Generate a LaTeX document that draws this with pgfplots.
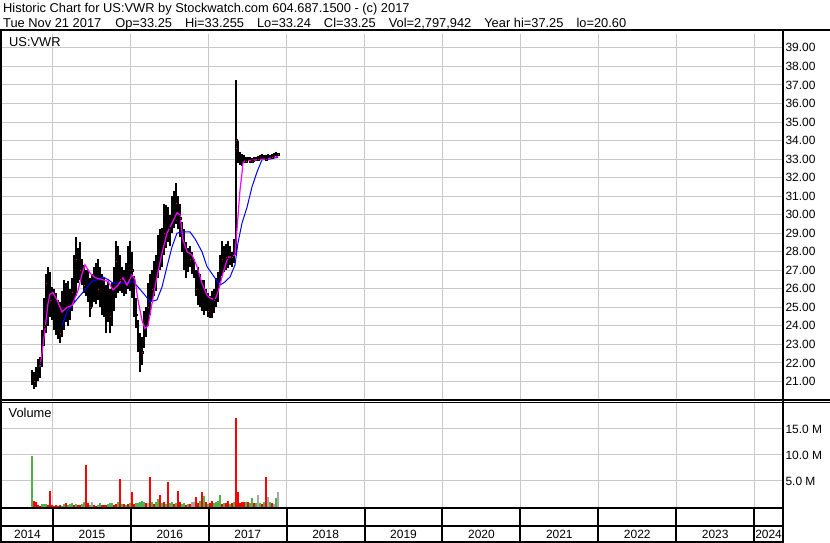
\documentclass[border=0pt]{standalone}
\usepackage{fontspec}
\setmainfont{Liberation Sans}
\usepackage{pgfplots}
\usepackage{pgfplotstable}
\pgfplotsset{compat=1.18}

\definecolor{gridgray}{RGB}{200,200,200}
\definecolor{volred}{RGB}{255,0,0}
\definecolor{volgreen}{RGB}{76,180,72}
\definecolor{volgray}{RGB}{168,168,168}
\definecolor{maline}{RGB}{255,0,255}
\definecolor{mbline}{RGB}{0,0,255}

% daily ranges (decimal year, low, high)
\pgfplotstableread{
yr lo hi
2014.731 20.8 21.6
2014.756 20.6 21.5
2014.782 20.7 21.8
2014.808 21.0 22.2
2014.833 21.2 22.3
2014.859 21.8 23.8
2014.885 22.9 25.5
2014.910 23.6 26.8
2014.936 24.0 27.2
2014.962 24.5 26.9
2014.988 24.3 26.1
2015.013 23.8 26.0
2015.039 23.5 25.8
2015.065 23.3 25.4
2015.090 23.1 25.3
2015.116 23.4 25.9
2015.142 23.8 26.5
2015.167 24.2 26.3
2015.193 24.0 26.4
2015.219 24.3 26.0
2015.244 24.8 26.6
2015.270 25.3 27.8
2015.296 25.6 28.8
2015.321 26.3 28.2
2015.347 26.5 28.5
2015.373 26.2 27.6
2015.398 25.8 27.3
2015.424 25.6 27.0
2015.449 25.3 27.0
2015.475 24.5 26.6
2015.501 25.0 26.8
2015.527 25.3 27.2
2015.552 25.2 27.4
2015.578 25.4 27.6
2015.604 25.0 27.2
2015.629 24.6 26.8
2015.655 24.5 26.6
2015.681 23.6 26.2
2015.706 24.2 26.4
2015.732 23.6 26.0
2015.758 24.0 26.3
2015.783 24.8 27.2
2015.809 25.5 28.6
2015.835 25.8 28.3
2015.860 25.9 27.8
2015.886 25.8 27.2
2015.912 25.6 27.0
2015.937 25.7 27.4
2015.963 26.0 28.3
2015.989 25.9 28.6
2016.014 25.5 28.0
2016.040 24.5 26.7
2016.066 23.9 25.5
2016.091 22.6 24.3
2016.117 21.5 23.6
2016.143 21.9 23.4
2016.168 22.8 24.8
2016.194 23.4 25.0
2016.220 24.0 26.3
2016.245 24.6 26.8
2016.271 25.3 27.0
2016.297 25.6 27.5
2016.322 25.9 27.8
2016.348 26.6 28.9
2016.374 27.0 29.2
2016.399 27.2 29.3
2016.425 27.8 30.6
2016.451 28.2 30.5
2016.476 28.5 30.4
2016.502 28.3 30.0
2016.528 29.0 31.0
2016.553 29.3 31.3
2016.579 29.5 31.7
2016.605 29.2 31.0
2016.630 28.8 30.6
2016.656 28.0 29.6
2016.682 27.0 29.2
2016.707 26.6 28.5
2016.733 26.9 28.2
2016.759 27.2 28.3
2016.784 26.8 28.0
2016.810 26.6 27.6
2016.836 25.6 27.0
2016.861 25.1 27.2
2016.887 25.0 26.8
2016.913 24.8 26.5
2016.938 24.6 26.5
2016.964 24.8 26.0
2016.990 24.5 25.8
2017.016 24.4 25.6
2017.041 24.4 25.9
2017.067 24.7 26.0
2017.093 25.0 26.6
2017.118 25.3 26.9
2017.144 26.3 27.8
2017.170 26.7 28.6
2017.195 26.9 28.3
2017.221 27.0 28.4
2017.247 27.1 28.6
2017.272 27.3 28.3
2017.298 27.2 28.0
2017.324 27.4 28.7
2017.349 27.8 37.25
2017.375 32.8 34.0
2017.401 32.7 33.4
2017.427 32.6 33.3
2017.452 32.8 33.2
2017.478 32.8 33.1
2017.504 32.9 33.1
2017.529 32.8 33.1
2017.555 32.8 33.05
2017.581 32.85 33.1
2017.606 32.9 33.1
2017.632 32.9 33.15
2017.658 32.95 33.2
2017.683 33.0 33.25
2017.709 32.95 33.2
2017.735 32.9 33.2
2017.760 33.0 33.25
2017.786 33.0 33.2
2017.812 33.05 33.25
2017.837 33.1 33.35
2017.863 33.15 33.4
2017.889 33.24 33.255
}\pricebars

% closing ticks on down days
\pgfplotstableread{
yr cl
2014.756 21.0
2014.833 22.0
2014.885 24.0
2014.910 26.3
2014.962 25.4
2015.039 24.6
2015.090 23.6
2015.167 25.2
2015.244 25.8
2015.296 27.6
2015.347 27.0
2015.398 26.2
2015.475 25.0
2015.578 26.0
2015.655 25.3
2015.732 24.5
2015.809 27.5
2015.860 26.5
2015.963 26.6
2016.014 27.0
2016.066 24.6
2016.143 22.6
2016.220 25.0
2016.271 26.0
2016.348 28.0
2016.425 29.0
2016.502 29.3
2016.579 30.6
2016.630 29.8
2016.682 28.0
2016.759 27.6
2016.836 26.0
2016.913 25.3
2016.990 24.8
2017.067 25.4
2017.170 27.6
2017.221 27.7
2017.298 27.7
2017.349 34.0
2017.349 33.6
2017.401 32.8
2017.478 32.9
2017.555 32.9
2017.632 33.0
2017.735 33.0
2017.812 33.1
2017.889 33.25
}\closeticks

% short moving average
\pgfplotstableread{
yr ma
2014.833 21.8
2014.859 22.5
2014.898 23.8
2014.936 25.2
2014.962 25.7
2015.000 25.8
2015.052 25.4
2015.116 24.75
2015.180 25.0
2015.244 25.1
2015.321 25.9
2015.373 26.8
2015.411 27.3
2015.475 26.85
2015.540 26.6
2015.629 26.5
2015.706 26.4
2015.771 25.94
2015.835 26.2
2015.899 26.6
2015.950 26.2
2016.014 26.75
2016.053 26.5
2016.091 25.4
2016.143 24.3
2016.181 23.86
2016.220 24.0
2016.271 25.2
2016.335 26.64
2016.400 27.93
2016.464 29.0
2016.528 29.55
2016.592 30.1
2016.631 30.0
2016.669 28.64
2016.721 28.0
2016.785 27.83
2016.849 27.2
2016.913 26.3
2016.977 25.66
2017.016 25.5
2017.080 25.4
2017.119 25.83
2017.183 26.85
2017.247 27.72
2017.298 27.72
2017.337 27.83
2017.375 29.9
2017.401 31.34
2017.427 32.26
2017.439 32.8
2017.465 32.9
2017.593 32.95
2017.722 33.0
2017.850 33.1
2017.889 33.15
}\mashort

% long moving average
\pgfplotstableread{
yr ma
2015.116 24.0
2015.180 24.75
2015.244 25.1
2015.321 25.5
2015.411 25.94
2015.501 26.4
2015.578 26.5
2015.642 26.64
2015.706 26.5
2015.771 26.3
2015.860 26.3
2015.963 26.3
2016.027 26.4
2016.091 26.1
2016.181 25.66
2016.246 25.3
2016.335 25.4
2016.400 26.1
2016.464 27.2
2016.528 28.26
2016.592 29.0
2016.656 29.07
2016.759 29.07
2016.823 28.7
2016.913 28.0
2016.977 27.2
2017.080 26.58
2017.144 26.2
2017.208 26.37
2017.273 26.64
2017.337 27.29
2017.375 28.48
2017.427 29.55
2017.491 30.4
2017.555 31.5
2017.619 32.3
2017.683 32.96
2017.786 33.0
2017.889 33.1
}\malong

% volume in millions, split by day type
\pgfplotstableread{
yr v
2014.756 1.2
2014.782 0.9
2014.808 0.4
2014.833 0.2
2014.936 0.3
2014.962 3.1
2014.988 0.3
2015.013 0.2
2015.039 0.3
2015.065 0.2
2015.090 0.3
2015.167 0.8
2015.270 0.3
2015.321 0.4
2015.347 0.3
2015.424 8.1
2015.449 0.8
2015.527 0.3
2015.552 0.2
2015.629 0.3
2015.655 0.3
2015.681 0.4
2015.783 0.3
2015.809 0.5
2015.860 5.3
2015.912 0.6
2015.963 0.6
2016.014 2.9
2016.040 0.6
2016.194 0.7
2016.245 5.8
2016.297 0.5
2016.374 2.4
2016.425 0.9
2016.476 4.9
2016.553 0.6
2016.605 3.1
2016.630 1.0
2016.707 0.4
2016.759 0.6
2016.836 2.0
2016.861 0.7
2016.913 2.8
2016.964 0.9
2017.016 0.7
2017.041 1.2
2017.170 0.6
2017.221 0.7
2017.247 1.1
2017.298 0.7
2017.349 17.2
2017.375 2.9
2017.401 0.8
2017.427 0.9
2017.452 1.0
2017.504 1.0
2017.581 0.8
2017.683 0.6
2017.735 5.8
2017.812 0.8
}\voldown

\pgfplotstableread{
yr v
2014.731 9.9
2014.859 0.5
2014.885 0.5
2014.910 0.5
2015.116 0.2
2015.142 0.5
2015.193 0.4
2015.219 0.5
2015.244 0.8
2015.296 0.6
2015.373 0.5
2015.398 0.9
2015.475 0.4
2015.578 0.4
2015.604 0.8
2015.706 0.5
2015.732 0.8
2015.758 0.8
2015.835 0.9
2015.886 0.5
2015.937 0.4
2015.989 0.7
2016.066 0.8
2016.091 0.7
2016.117 1.0
2016.143 1.2
2016.168 1.0
2016.271 0.9
2016.322 1.0
2016.348 1.6
2016.399 0.8
2016.451 0.6
2016.502 0.8
2016.528 1.0
2016.579 0.8
2016.656 0.5
2016.682 0.8
2016.733 0.5
2016.887 1.2
2016.938 2.2
2016.990 0.6
2017.067 0.7
2017.093 0.9
2017.118 1.1
2017.144 2.4
2017.195 0.8
2017.272 0.6
2017.324 0.9
2017.478 0.9
2017.529 0.7
2017.555 1.8
2017.606 0.7
2017.658 0.8
2017.709 1.0
2017.786 1.0
2017.863 1.8
}\volup

\pgfplotstableread{
yr v
2015.501 1.0
2016.220 0.8
2016.784 0.9
2016.810 0.9
2017.632 2.4
2017.760 2.0
2017.837 0.5
2017.889 2.798
}\volflat

\pgfplotsset{
  swpanel/.style={
    scale only axis, width=781bp,
    xmin=2014.346, xmax=2024.371,
    axis line style={draw=none}, tick style={draw=none},
    xtick={2015,...,2024}, xticklabels={},
    xmajorgrids, ymajorgrids,
    major grid style={gridgray, line width=1bp},
    yticklabel pos=right,
    yticklabel style={font=\fontsize{12}{14}\selectfont, anchor=west, xshift=-1bp},
    /pgf/number format/assume math mode=true,
  },
}

\begin{document}
\begin{tikzpicture}[x=1bp, y=1bp]
\useasboundingbox (0,0) rectangle (830,543);
\fill[white] (0,0) rectangle (830,543);

% price panel (top 34px .. 400px from the top edge)
\begin{axis}[swpanel, at={(2bp,143bp)}, anchor=south west, height=366bp,
  ymin=20, ymax=39.75, ytick={21,...,39},
  yticklabel style={/pgf/number format/.cd, fixed, fixed zerofill, precision=2}]
\addplot[draw=none, mark=none,
  error bars/.cd, y dir=minus, y explicit, error mark=none,
  error bar style={draw=black, solid, line width=1.2bp}]
  table[x=yr, y=hi, y error expr=\thisrow{hi}-\thisrow{lo}] {\pricebars};
\addplot[only marks, mark=square*, mark size=0.9bp,
  mark options={draw=none, fill=red}] table[x=yr, y=cl] {\closeticks};
\addplot[mbline, line width=1bp] table[x=yr, y=ma] {\malong};
\addplot[maline, line width=1.2bp] table[x=yr, y=ma] {\mashort};
\end{axis}

% volume panel
\begin{axis}[swpanel, at={(2bp,36bp)}, anchor=south west, height=105bp,
  ymin=0, ymax=20.19, ytick={5,10,15},
  yticklabels={5.0 M, 10.0 M, 15.0 M}]
\addplot[ycomb, volgreen, line width=1.5bp] table[x=yr, y=v] {\volup};
\addplot[ycomb, volgray, line width=1.5bp] table[x=yr, y=v] {\volflat};
\addplot[ycomb, volred, line width=1.5bp] table[x=yr, y=v] {\voldown};
\end{axis}

% year band
\begin{axis}[scale only axis, width=781bp, height=34bp,
  at={(2bp,0bp)}, anchor=south west,
  xmin=2014.346, xmax=2024.371, ymin=0, ymax=2,
  axis line style={draw=none}, tick style={draw=none},
  xtick={2015,...,2024}, xticklabels={}, ytick=\empty,
  xmajorgrids, major grid style={black, line width=2bp},
  clip=false]
\foreach \yy/\lab in {2014.673/2014, 2015.5/2015, 2016.5/2016, 2017.5/2017,
  2018.5/2018, 2019.5/2019, 2020.5/2020, 2021.5/2021, 2022.5/2022,
  2023.5/2023, 2024.186/2024}{
  \edef\tmp{\noexpand\node[font=\noexpand\fontsize{12}{14}\noexpand\selectfont, inner sep=0pt]
    at (axis cs:\yy,0.5) {\lab};}\tmp
}
\end{axis}

% frame and titles, in pixel rows counted from the top
\begin{scope}[y=-1bp, shift={(0,-543)}]
\begin{scope}[line width=2bp, black]
\draw (0,30.5) -- (830,30.5);
\draw (1,30) -- (1,543);
\draw (782.5,30) -- (782.5,543);
\draw (0,508.5) -- (783,508.5);
\draw (0,526.5) -- (783,526.5);
\draw (0,542) -- (783,542);
\end{scope}
\draw[line width=1.2bp] (0,400) -- (830,400);
\draw[line width=1.2bp] (0,402.6) -- (830,402.6);

\begin{scope}[font=\fontsize{12.9}{15}\selectfont]
\node[anchor=base west, inner sep=0pt] at (3,12.5) {Historic Chart for US:VWR by Stockwatch.com 604.687.1500 - (c) 2017};
\node[anchor=base west, inner sep=0pt] at (3,27.5) {Tue Nov 21 2017\hspace{14bp}Op=33.25\hspace{13bp}Hi=33.255\hspace{13bp}Lo=33.24\hspace{13bp}Cl=33.25\hspace{13bp}Vol=2,797,942\hspace{13bp}Year hi=37.25\hspace{13bp}lo=20.60};
\node[anchor=base west, inner sep=0pt] at (9,46.5) {US:VWR};
\node[anchor=base west, inner sep=0pt] at (8.5,418) {Volume};
\end{scope}
\end{scope}
\end{tikzpicture}
\end{document}
